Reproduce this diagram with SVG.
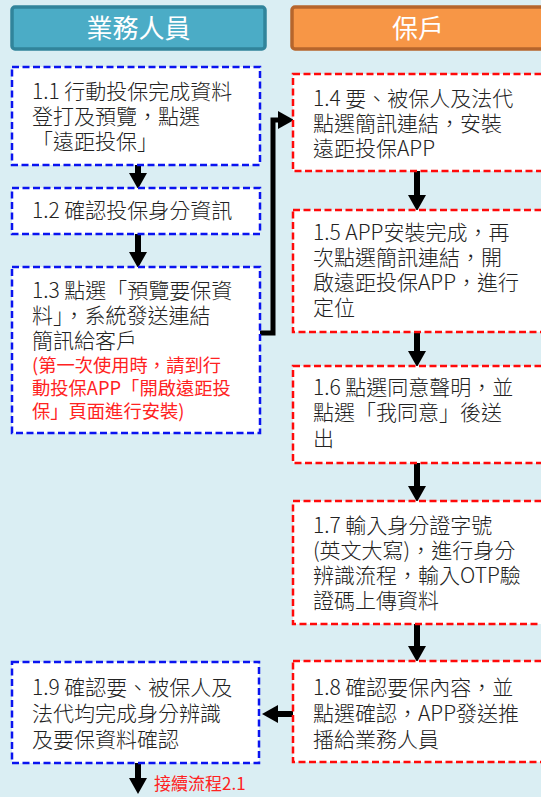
<svg xmlns="http://www.w3.org/2000/svg" width="541" height="797" viewBox="0 0 541 797" xml:lang="zh-TW" lang="zh-TW">
<style>
.bg{fill:#daeef3}
.hl{fill:#4bacc6;stroke:#31849b;stroke-width:3.5}
.hr{fill:#f79646;stroke:#b6652c;stroke-width:3.5}
.ht{font-family:"Noto Sans CJK TC","Noto Sans CJK SC",sans-serif;font-size:26px;fill:#ffffff;text-anchor:middle}
.bb{fill:#ffffff;stroke:#0a14f0;stroke-width:2.5;stroke-dasharray:7 3.5}
.br{fill:#ffffff;stroke:#ff0a0a;stroke-width:2.5;stroke-dasharray:7 3.5}
.t{font-family:"Noto Sans CJK TC","Noto Sans CJK SC",sans-serif;font-size:21px;font-weight:300;fill:#222222}
.r{font-family:"Noto Sans CJK TC","Noto Sans CJK SC",sans-serif;font-size:18.3px;fill:#ff2222}
.c{fill:none;stroke:#000000;stroke-width:6}
.c2{fill:none;stroke:#000000;stroke-width:5}
</style>
<defs>
<marker id="ah" viewBox="0 0 16 18" refX="0" refY="9" markerWidth="16" markerHeight="18" markerUnits="userSpaceOnUse" orient="auto">
<path d="M0,0 L16,9 L0,18 z" fill="#000000"/>
</marker>
</defs>
<rect class="bg" x="0" y="0" width="541" height="797"/>
<g id="header-left">
<rect class="hl" x="12" y="7" width="253" height="42" rx="3"/>
<text class="ht" x="138.5" y="38">業務人員</text>
</g>
<g id="header-right">
<rect class="hr" x="292" y="7" width="256" height="42" rx="3"/>
<text class="ht" x="418" y="38">保戶</text>
</g>
<g id="connectors">
<line class="c" x1="138" y1="165" x2="138" y2="173" marker-end="url(#ah)"/>
<line class="c" x1="138" y1="234" x2="138" y2="252" marker-end="url(#ah)"/>
<polyline class="c2" points="260,333 273,333 273,120 278,120" marker-end="url(#ah)"/>
<line class="c" x1="417" y1="171" x2="417" y2="195" marker-end="url(#ah)"/>
<line class="c" x1="417" y1="332" x2="417" y2="351" marker-end="url(#ah)"/>
<line class="c" x1="417" y1="463" x2="417" y2="486" marker-end="url(#ah)"/>
<line class="c" x1="417" y1="624" x2="417" y2="646" marker-end="url(#ah)"/>
<line class="c" x1="293" y1="714" x2="278" y2="714" marker-end="url(#ah)"/>
<line class="c" x1="138" y1="763" x2="138" y2="778" marker-end="url(#ah)"/>
</g>
<g id="n11">
<rect class="bb" x="12" y="67" width="248" height="98"/>
<text class="t" x="32" y="99">1.1 行動投保完成資料</text>
<text class="t" x="32" y="124">登打及預覽，點選</text>
<text class="t" x="32" y="149">「遠距投保」</text>
</g>
<g id="n12">
<rect class="bb" x="12" y="188" width="248" height="46"/>
<text class="t" x="32" y="218">1.2 確認投保身分資訊</text>
</g>
<g id="n13">
<rect class="bb" x="12" y="267" width="248" height="166"/>
<text class="t" x="32" y="298">1.3 點選「預覽要保資</text>
<text class="t" x="32" y="323">料」，系統發送連結</text>
<text class="t" x="32" y="348">簡訊給客戶</text>
<text class="r" x="32" y="372">(第一次使用時，請到行</text>
<text class="r" x="32" y="395">動投保APP「開啟遠距投</text>
<text class="r" x="32" y="418">保」頁面進行安裝)</text>
</g>
<g id="n14">
<rect class="br" x="293" y="74" width="255" height="97"/>
<text class="t" x="313" y="106">1.4 要、被保人及法代</text>
<text class="t" x="313" y="131">點選簡訊連結，安裝</text>
<text class="t" x="313" y="156">遠距投保APP</text>
</g>
<g id="n15">
<rect class="br" x="293" y="210" width="255" height="122"/>
<text class="t" x="313" y="240">1.5 APP安裝完成，再</text>
<text class="t" x="313" y="265">次點選簡訊連結，開</text>
<text class="t" x="313" y="290">啟遠距投保APP，進行</text>
<text class="t" x="313" y="315">定位</text>
</g>
<g id="n16">
<rect class="br" x="293" y="366" width="255" height="97"/>
<text class="t" x="313" y="395">1.6 點選同意聲明，並</text>
<text class="t" x="313" y="420">點選「我同意」後送</text>
<text class="t" x="313" y="446">出</text>
</g>
<g id="n17">
<rect class="br" x="293" y="501" width="255" height="123"/>
<text class="t" x="313" y="533">1.7 輸入身分證字號</text>
<text class="t" x="313" y="558">(英文大寫)，進行身分</text>
<text class="t" x="313" y="583">辨識流程，輸入OTP驗</text>
<text class="t" x="313" y="608">證碼上傳資料</text>
</g>
<g id="n18">
<rect class="br" x="293" y="661" width="255" height="101"/>
<text class="t" x="313" y="695">1.8 確認要保內容，並</text>
<text class="t" x="313" y="721">點選確認，APP發送推</text>
<text class="t" x="313" y="747">播給業務人員</text>
</g>
<g id="n19">
<rect class="bb" x="12" y="662" width="247" height="101"/>
<text class="t" x="32" y="695">1.9 確認要、被保人及</text>
<text class="t" x="32" y="721">法代均完成身分辨識</text>
<text class="t" x="32" y="747">及要保資料確認</text>
</g>
<g id="n-next">
<text class="r" x="154" y="790" style="font-size:17px">接續流程2.1</text>
</g>
</svg>
